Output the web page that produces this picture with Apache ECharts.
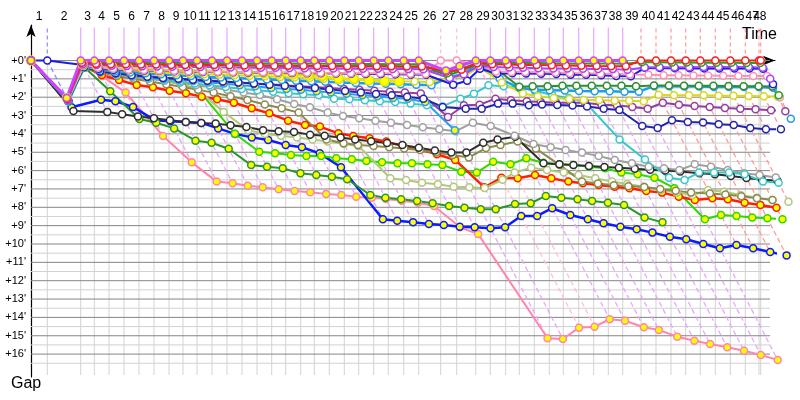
<!DOCTYPE html>
<html><head><meta charset="utf-8">
<script src="https://cdn.jsdelivr.net/npm/echarts/dist/echarts.min.js"></script>
<style>html,body{margin:0;padding:0;background:#fff}#c{width:800px;height:400px}</style>
</head><body><div id="c"></div>
<script>
// leader cumulative time (minutes) at the end of each lap (index = lap, 0 = start)
const lapTimes = [0, 1.716, 5.232, 6.663, 8.211, 9.789, 11.368, 12.947, 14.526, 16.0, 17.474, 19.053, 20.632, 22.211, 23.789, 25.337, 26.811, 28.389, 29.821, 31.4, 32.979, 34.495, 36.074, 37.611, 39.232, 40.811, 43.126, 44.811, 46.811, 48.347, 49.968, 51.4, 52.979, 54.558, 56.032, 57.653, 59.232, 60.768, 62.284, 64.211, 65.789, 67.368, 68.916, 70.453, 72.032, 73.611, 75.189, 76.632, 76.811];
const lapLabels = ['1','2','3','4','5','6','7','8','9','10','11','12','13','14','15','16','17','18','19','20','21','22','23','24','25','26','27','28','29','30','31','32','33','34','35','36','37','38','39','40','41','42','43','44','45','46','47','48'];
const gapTicks = [0,1,2,3,4,5,6,7,8,9,10,11,12,13,14,15,16];

// gap to leader (minutes) per lap, index = lap
const gMagenta = [0,2.05,0,0,0,0,0,0,0,0,0,0,0,0,0,0,0,0,0,0,0,0,0,0,0,0,0.55,0.3,0,0,0,0,0,0,0,0,0,0,0];
const gRed = [0,2.1,0.12,0.18,0.2,0.2,0.22,0.22,0.24,0.24,0.25,0.25,0.26,0.27,0.27,0.28,0.28,0.29,0.3,0.3,0.31,0.31,0.32,0.32,0.33,0.33,0.6,0.5,0.15,0.2,0.22,0.24,0.25,0.26,0.27,0.28,0.3,0.31,0.32,0,0,0,0,0,0,0,0,0,0];
const gGreen = [0,2.05,0.1,0.1,0.1,0.12,0.12,0.12,0.13,0.13,0.14,0.14,0.15,0.15,0.15,0.16,0.16,0.17,0.17,0.18,0.18,0.19,0.19,0.2,0.2,0.21,0.7,0.45,0.15,0.12,0.13,0.14,0.14,0.15,0.16,0.16,0.17,0.17,0.18,0.1,0.1,0.11,0.11,0.12,0.12,0.12,0.13,0.13,1.9];
const gViolet = [0,2.15,0.2,0.25,0.28,0.3,0.32,0.33,0.34,0.35,0.36,0.37,0.38,0.39,0.4,0.4,0.41,0.42,0.42,0.43,0.44,0.45,0.45,0.46,0.47,0.48,0.95,0.75,0.3,0.35,0.38,0.4,0.42,0.43,0.44,0.45,0.46,0.47,0.5,0.38,0.37,0.37,0.37,0.36,0.36,0.36,0.36,0.4,1.0];
const gPink = [0,2.1,0.25,0.4,0.45,0.5,0.52,0.54,0.56,0.58,0.6,0.61,0.62,0.63,0.64,0.65,0.66,0.67,0.67,0.68,0.69,0.7,0.7,0.71,0.72,0.73,0,0,0.25,0.6,0.62,0.63,0.64,0.66,0.68,0.7,0.72,0.74,0.76,0.78,0.8,0.8,0.82,0.82,0.83,0.84,0.84,0.85,2.0];
const gDarkBlue = [0,0,0.25,0.45,0.5,0.52,0.54,0.56,0.58,0.6,0.62,0.63,0.64,0.65,0.66,0.67,0.68,0.69,0.7,0.71,0.72,0.73,0.74,0.75,0.76,0.78,1.32,1.1,0.45,0.72,0.7,0.71,0.72,0.74,0.77,0.78,0.8,0.84,0.86,0.4,0.41,0.42,0.42,0.43,0.43,0.44,0.44,0.45,1.3];
const gGreen2 = [0,2.1,0.15,0.15,0.17,0.18,0.19,0.2,0.21,0.22,0.23,0.24,0.25,0.26,0.27,0.28,0.28,0.29,0.3,0.3,0.31,0.32,0.32,0.33,0.34,0.35,0.8,0.55,0.2,0.34,1.43,1.4,1.4,1.38,1.38,1.37,1.38,1.38,1.4,1.36,1.36,1.37,1.38,1.38,1.39,1.4,1.4,1.42,1.95];
const gYellowBig = [0,2.05,0.2,0.3,0.35,0.4,0.45,0.5,0.52,0.55,0.58,0.6,0.63,0.66,0.7,0.72,0.76,0.8,0.84,0.99,0.99,1.08,1.13,1.13];
const gYellow = [0,2.15,0.3,0.45,0.5,0.55,0.6,0.65,0.7,0.72,0.75,0.78,0.8,0.83,0.86,0.9,0.93,0.96,1.0,1.03,1.06,1.08,1.1,1.13,1.15,1.17,0.95,0.85,0.35,1.2,1.8,1.95,2.05,2.1,2.15,2.15,2.2,2.2,2.22,1.86,1.9,1.9,1.9,1.92,1.92,1.93,1.95,1.97,2.0];
const gSky = [0,2.2,0.3,0.5,0.6,0.65,0.7,0.75,0.8,0.85,0.9,0.93,0.96,1.0,1.03,1.06,1.1,1.13,1.16,1.2,1.22,1.25,1.27,1.3,1.32,1.35,0.9,0.75,0.17,1.0,1.5,1.6,1.62,1.64,1.66,1.68,1.68,1.7,1.7,1.4,1.4,1.42,1.42,1.44,1.44,1.44,1.44,1.48,3.17];
const gNavy = [0,2.2,0.35,0.6,0.7,0.8,0.88,0.95,1.0,1.05,1.1,1.15,1.2,1.26,1.32,1.38,1.44,1.5,1.58,1.66,1.74,1.82,1.9,1.98,2.08,2.53,2.63,2.63,2.35,2.35,2.44,2.4,2.42,2.45,2.5,2.63,2.7,3.57,3.68,3.26,3.35,3.38,3.47,3.52,3.68,3.75,3.75];
const gPurple = [0,2.2,0.35,0.6,0.7,0.78,0.85,0.92,1.0,1.05,1.1,1.15,1.2,1.25,1.3,1.35,1.4,1.45,1.5,1.55,1.6,1.65,1.7,1.75,1.8,3.08,2.44,2.41,2.08,2.17,2.22,2.26,2.3,2.3,2.3,2.41,2.44,2.53,2.63,2.3,2.41,2.48,2.53,2.59,2.63,2.66,2.71,2.77];
const gCyan = [0,2.2,0.4,0.6,0.75,0.85,0.95,1.05,1.15,1.25,1.35,1.45,1.55,1.62,1.7,1.78,1.84,1.9,2.08,2.11,2.17,2.22,2.26,2.35,2.44,2.5,2.08,1.81,1.35,1.4,1.46,1.65,1.88,2.05,2.25,4.3,5.4,6.39,6.51,6.11,6.11,6.11,6.2,6.6,6.66];
const gSkyY = [0,2.25,0.35,0.55,0.7,0.8,0.9,1.0,1.05,1.1,1.2,1.25,1.35,1.4,1.5,1.55,1.6,1.68,1.75,1.81,1.9,1.95,2.04,2.08,2.26,3.8];
const gGrey = [0,2.2,0.35,0.6,0.75,0.9,1.0,1.1,1.2,1.35,1.45,1.6,1.75,1.88,2.11,2.37,2.55,2.84,3.02,3.15,3.28,3.39,3.51,3.64,3.75,3.86,3.39,3.57,4.1,4.55,4.73,4.88,5.02,5.2,5.42,5.6,5.79,5.87,5.97,5.66,5.79,5.97,6.15,6.24,6.37];
const gBlack = [0,2.75,2.8,2.93,3.05,3.15,3.25,3.35,3.4,3.44,3.53,3.62,3.8,3.86,3.9,4.04,4.1,4.2,4.3,4.4,4.5,4.6,4.75,4.9,5.02,5.02,4.48,4.3,4.15,5.6,5.65,5.7,5.75,5.8,5.85,5.9,5.95,6.0,6.05,6.15,6.2,6.3,6.4,6.5,6.55];
const gOlive = [0,2.15,0.4,0.65,0.85,1.0,1.15,1.3,1.45,1.6,1.75,1.95,2.15,2.4,2.6,2.84,4.3,4.51,4.6,4.66,4.73,4.79,4.88,5.02,5.15,5.28,4.77,4.6,4.42,4.8,5.7,6.6,6.7,6.8,6.85,6.9,7.0,7.1,7.2,7.25,7.3,7.4,7.5,7.6];
const gLightOlive = [0,2.1,0.35,0.55,0.7,0.85,0.95,1.1,1.3,1.62,2.8,3.8,4.0,4.1,4.2,4.3,4.42,4.55,4.66,6.42,6.51,6.66,6.75,6.88,6.91,6.95,6.5,6.1,5.84,5.97,6.11,6.24,6.42,6.6,6.73,6.88,7.06,7.2,7.33,7.06,7.15,7.33,7.48,7.6,7.7];
const gDarkGreenY = [0,2.1,0.35,1.68,3.19,3.39,3.7,4.37,4.48,4.81,5.7,5.79,5.87,6.15,6.24,6.33,6.47,7.33,7.48,7.56,7.66,7.78,7.93,8.02,8.11,8.11,7.82,7.78,7.38,7.48,7.56,7.66,7.75,7.87,8.55,8.82];
const gBrightGreenY = [0,2.1,0.3,0.45,0.6,0.75,0.9,1.1,1.3,1.57,3.99,4.97,5.06,5.15,5.2,5.2,5.33,5.38,5.48,5.55,5.6,5.6,5.66,5.69,6.06,6.11,5.52,5.66,5.33,5.57,5.66,5.69,5.79,5.87,6.11,6.2,6.39,6.96,8.65,8.42,8.47,8.55,8.6,8.65];
const gPinkY = [0,2.1,0.3,0.85,1.75,4.11,5.55,6.6,6.69,6.82,6.91,7.02,7.11,7.18,7.28,7.33,7.42,7.48,7.55,7.64,7.75,7.93,9.09,9.46,15.14,15.18,14.56,14.51,14.1,14.18,14.54,14.69,15.05,15.27,15.45,15.63,15.82,16.05,16.32];
const gRedY = [0,2.1,0.3,0.79,1.06,1.34,1.46,1.65,1.79,1.97,2.11,2.3,2.6,2.88,3.28,3.51,3.6,3.97,4.11,4.24,4.42,4.66,4.84,5.11,5.42,6.91,6.39,6.42,6.24,6.42,6.6,6.69,6.78,6.88,6.96,7.11,7.2,7.42,7.6,7.51,7.56,7.75,7.87,8.02];
const gBlueY = [0,2.55,2.14,2.22,2.53,3.26,3.31,3.35,3.4,3.7,4.0,4.19,4.33,4.6,4.73,5.06,5.82,8.65,8.73,8.82,8.91,8.96,9.06,9.09,9.14,9.09,8.47,8.47,8.05,8.42,8.65,8.87,9.06,9.2,9.38,9.6,9.74,10.0,10.23,10.05,10.23,10.44,10.62];

// drawing styles (drawn in this order)
const cars = [
  {g: gPinkY,        c: '#ff86aa', f: '#ffff00', w: 2},
  {g: gBlueY,        c: '#0a1cff', f: '#ffff00', w: 2.5},
  {g: gDarkGreenY,   c: '#2a962a', f: '#ffff00', w: 2},
  {g: gBrightGreenY, c: '#2ed800', f: '#ffff00', w: 2},
  {g: gRedY,         c: '#ff2000', f: '#ffff00', w: 2.5},
  {g: gLightOlive,   c: '#b2c87a', f: '#ffffff', w: 2},
  {g: gOlive,        c: '#8c8a4c', f: '#ffffff', w: 2},
  {g: gBlack,        c: '#2e2e2e', f: '#ffffff', w: 2},
  {g: gGrey,         c: '#a0a0a0', f: '#ffffff', w: 2},
  {g: gCyan,         c: '#38c8c8', f: '#ffffff', w: 2},
  {g: gSkyY,         c: '#2a9df0', f: '#ffff00', w: 2},
  {g: gPurple,       c: '#9a3c9e', f: '#ffffff', w: 2},
  {g: gNavy,         c: '#2424aa', f: '#ffffff', w: 2},
  {g: gSky,          c: '#1e9ee8', f: '#ffffff', w: 2.5},
  {g: gYellow,       c: '#d8d820', f: '#ffffff', w: 2},
  {g: gYellowBig,    c: '#e4e400', f: '#ffff00', w: 2.5, s: 9},
  {g: gGreen2,       c: '#2e8e2e', f: '#ffffff', w: 2},
  {g: gDarkBlue,     c: '#1c1cdc', f: '#ffffff', w: 2, lite: '#8c8cff', dash: true},
  {g: gPink,         c: '#ff8fb4', f: '#ffffff', w: 2, lite: '#ffc0d2', dash: true},
  {g: gViolet,       c: '#a444ff', f: '#ffffff', w: 2},
  {g: gGreen,        c: '#1fa81f', f: '#ffffff', w: 2},
  {g: gRed,          c: '#ff1a1a', f: '#ffffff', w: 2, lite: '#ff9c9c', dash: true},
  {g: gMagenta,      c: '#cc44ff', f: '#ffff00', w: 3, lite: '#e8a6ff', dash: false}
];

const yMin = -35.5 / 18.35;
const yMax = yMin + 352 / 18.35;
const xEnd = 77.79;      // end of horizontal grid
const yBottom = 17.14;   // end of vertical grid
const yTop = -1.8;       // top of coloured lap lines

const lineStyles = [
  {stroke: '#858585', lineWidth: 1},                 // 0 major horizontal
  {stroke: '#d2d2d2', lineWidth: 1}                  // 1 minor
];
const gridData = [];
for (let v = 0.5; v < 16.6; v += 1) gridData.push([0, v, xEnd, v, 1]);
for (let n = 1; n < lapTimes.length; n++) gridData.push([lapTimes[n], 0, lapTimes[n], yBottom, 1]);
for (let v = 0; v <= 16; v += 1) gridData.push([0, v, xEnd, v, 0]);

// lap lines: leader of lap defines colour, diagonal runs to the slowest car of that lap
const diagData = [];
for (let n = 1; n < lapTimes.length; n++) {
  let leader = null, best = Infinity, gmax = 0;
  cars.forEach(car => {
    if (car.g.length > n) {
      const g = car.g[n];
      if (g < best) { best = g; leader = car; }
      if (g > gmax) gmax = g;
    }
  });
  const col = leader.lite || '#e8a6ff';
  const dash = leader.dash ? [4, 3] : null;
  lineStyles.push({stroke: col, lineWidth: 1.3, lineDash: [5, 3]});
  const di = lineStyles.length - 1;
  lineStyles.push({stroke: col, lineWidth: 1.2, lineDash: dash});
  const vi = lineStyles.length - 1;
  diagData.push([lapTimes[n], 0, lapTimes[n], yTop, vi]);
  diagData.push([lapTimes[n], 0, lapTimes[n] + gmax, gmax, di]);
}

function renderSeg(params, api) {
  const p1 = api.coord([api.value(0), api.value(1)]);
  const p2 = api.coord([api.value(2), api.value(3)]);
  const st = lineStyles[api.value(4)];
  return {type: 'line', shape: {x1: p1[0], y1: p1[1], x2: p2[0], y2: p2[1]},
    style: {stroke: st.stroke, lineWidth: st.lineWidth, lineDash: st.lineDash || null, fill: null}};
}

// lap number labels centred on each lap interval, above the top axis
const labelData = [];
for (let n = 1; n < lapTimes.length; n++) labelData.push([(lapTimes[n - 1] + lapTimes[n]) / 2, n - 1]);
function renderLabel(params, api) {
  const p = api.coord([api.value(0), yMin]);
  return {type: 'text', x: p[0], y: p[1] - 2,
    style: {text: lapLabels[api.value(1)], textAlign: 'center', textVerticalAlign: 'bottom',
      font: '12px "Liberation Sans"', fill: '#000'}};
}

const series = [
  {type: 'custom', renderItem: renderSeg, data: gridData, silent: true, z: 1, clip: false},
  {type: 'custom', renderItem: renderSeg, data: diagData, silent: true, z: 1, clip: false},
  {type: 'custom', renderItem: renderLabel, data: labelData, silent: true, z: 5, clip: false}
];
cars.forEach(car => {
  series.push({
    type: 'line', z: 3, clip: false, silent: true,
    data: car.g.map((g, i) => [lapTimes[i] + g, g]),
    symbol: 'circle', symbolSize: car.s || 7, showSymbol: true,
    lineStyle: {color: car.c, width: car.w},
    itemStyle: {color: car.f, borderColor: car.c, borderWidth: 1.5},
    emphasis: {disabled: true}
  });
});

const chart = echarts.init(document.getElementById('c'));
chart.setOption({
  animation: false,
  backgroundColor: '#ffffff',
  grid: {left: 31, top: 25, width: 744, height: 352, containLabel: false},
  xAxis: {
    type: 'value', position: 'top', min: 0, max: 744 / 9.5,
    axisLine: {show: true, lineStyle: {color: '#000', width: 1.2}, symbol: ['none', 'arrow'], symbolSize: [7, 12]},
    axisTick: {show: false}, splitLine: {show: false}, axisLabel: {show: false}
  },
  yAxis: {
    type: 'value', inverse: true, min: yMin, max: yMax,
    axisLine: {show: true, lineStyle: {color: '#000', width: 1.2}, symbol: ['none', 'arrow'], symbolSize: [7, 12]},
    axisTick: {show: false}, splitLine: {show: false},
    axisLabel: {customValues: gapTicks, margin: 5, color: '#000', fontSize: 11, fontFamily: 'Liberation Sans',
      formatter: v => '+' + v + "'"}
  },
  graphic: [
    {type: 'text', left: 742, top: 27, style: {text: 'Time', fontSize: 16, fontFamily: 'Liberation Sans', fill: '#000'}},
    {type: 'text', left: 11, top: 376, style: {text: 'Gap', fontSize: 16, fontFamily: 'Liberation Sans', fill: '#000'}}
  ],
  series: series
});
</script>
</body></html>
